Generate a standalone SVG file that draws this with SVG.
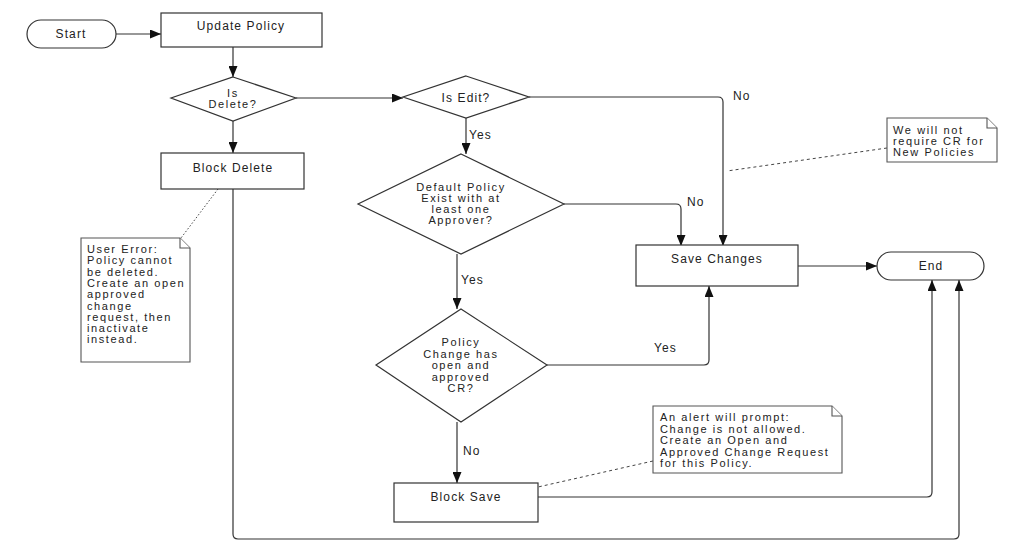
<svg xmlns="http://www.w3.org/2000/svg" width="1011" height="543" viewBox="0 0 1011 543">
<defs>
<style>
.shape{fill:#fff;stroke:#333;stroke-width:1.2}
.note{fill:#fff;stroke:#555;stroke-width:1.1}
.t{font-family:"Liberation Sans",Arial,sans-serif;font-size:12px;fill:#222;letter-spacing:1.1px}
.m{font-size:11px;letter-spacing:1.6px}
.c{text-anchor:middle}
.conn{fill:none;stroke:#333;stroke-width:1.2}
.dash{fill:none;stroke:#444;stroke-width:1;stroke-dasharray:3 3}
.dot{fill:none;stroke:#444;stroke-width:1;stroke-dasharray:1.5 2}
</style>
<marker id="arr" markerWidth="11" markerHeight="9" refX="11" refY="4.5" orient="auto" markerUnits="userSpaceOnUse">
<path d="M0,0 L11,4.5 L0,9 z" fill="#111"/>
</marker>
</defs>
<rect width="1011" height="543" fill="#fff"/>

<g id="connectors">
<path class="conn" d="M116,34 H161" marker-end="url(#arr)"/>
<path class="conn" d="M233,47 V77" marker-end="url(#arr)"/>
<path class="conn" d="M233,121 V153" marker-end="url(#arr)"/>
<path class="conn" d="M296,98 H403" marker-end="url(#arr)"/>
<path class="conn" d="M529,97 H718 Q723,97 723,102 V246" marker-end="url(#arr)"/>
<path class="conn" d="M466,118 V154" marker-end="url(#arr)"/>
<path class="conn" d="M564,204 H676 Q681,204 681,209 V246" marker-end="url(#arr)"/>
<path class="conn" d="M457,254 V309" marker-end="url(#arr)"/>
<path class="conn" d="M547,365 H704 Q709,365 709,360 V286" marker-end="url(#arr)"/>
<path class="conn" d="M457,422 V483" marker-end="url(#arr)"/>
<path class="conn" d="M798,266 H877" marker-end="url(#arr)"/>
<path class="conn" d="M538,497 H927 Q932,497 932,492 V280" marker-end="url(#arr)"/>
<path class="conn" d="M233,189 V534 Q233,539 238,539 H954 Q959,539 959,534 V280" marker-end="url(#arr)"/>
<path class="dot" d="M218,189 L181,238"/>
<path class="dash" d="M887,148 L727,171"/>
<path class="dash" d="M653,461 L538,487"/>
<text class="t" x="469" y="139">Yes</text>
<text class="t" x="733" y="100">No</text>
<text class="t" x="687" y="206">No</text>
<text class="t" x="461" y="284">Yes</text>
<text class="t" x="654" y="352">Yes</text>
<text class="t" x="463" y="455">No</text>
</g>

<g id="start">
<rect class="shape" x="27" y="20" width="89" height="28" rx="14" ry="14"/>
<text class="t c" x="71" y="38">Start</text>
</g>

<g id="update-policy">
<rect class="shape" x="161" y="13" width="161" height="34"/>
<text class="t c" x="241" y="30">Update Policy</text>
</g>

<g id="is-delete">
<polygon class="shape" points="233,77 296,98 233,121 171,98"/>
<text class="t m c" x="233" y="97">Is</text>
<text class="t m c" x="233" y="108">Delete?</text>
</g>

<g id="block-delete">
<rect class="shape" x="161" y="153" width="143" height="36"/>
<text class="t c" x="233" y="172">Block Delete</text>
</g>

<g id="is-edit">
<polygon class="shape" points="466,76 529,97 466,118 403,97"/>
<text class="t c" x="466" y="102">Is Edit?</text>
</g>

<g id="default-policy">
<polygon class="shape" points="461,154 564,204 461,254 358,204"/>
<text class="t m c" x="461" y="191">Default Policy</text>
<text class="t m c" x="461" y="202">Exist with at</text>
<text class="t m c" x="461" y="213">least one</text>
<text class="t m c" x="461" y="224">Approver?</text>
</g>

<g id="policy-change">
<polygon class="shape" points="461,309 547,365 461,422 376,365"/>
<text class="t m c" x="461" y="346">Policy</text>
<text class="t m c" x="461" y="357.5">Change has</text>
<text class="t m c" x="461" y="369">open and</text>
<text class="t m c" x="461" y="380.5">approved</text>
<text class="t m c" x="461" y="392">CR?</text>
</g>

<g id="save-changes">
<rect class="shape" x="636" y="245" width="162" height="41"/>
<text class="t c" x="717" y="263">Save Changes</text>
</g>

<g id="end">
<rect class="shape" x="877" y="252" width="107" height="28" rx="14" ry="14"/>
<text class="t c" x="931" y="270">End</text>
</g>

<g id="block-save">
<rect class="shape" x="394" y="483" width="144" height="39"/>
<text class="t c" x="466" y="501">Block Save</text>
</g>

<g id="note-user-error">
<path class="note" d="M81,238 H180 L190,248 V362 H81 Z"/>
<path class="note" d="M180,238 V248 H190"/>
<text class="t m" x="87" y="253">User Error:</text>
<text class="t m" x="87" y="264.3">Policy cannot</text>
<text class="t m" x="87" y="275.6">be deleted.</text>
<text class="t m" x="87" y="286.9">Create an open</text>
<text class="t m" x="87" y="298.2">approved</text>
<text class="t m" x="87" y="309.5">change</text>
<text class="t m" x="87" y="320.8">request, then</text>
<text class="t m" x="87" y="332.1">inactivate</text>
<text class="t m" x="87" y="343.4">instead.</text>
</g>

<g id="note-new-policies">
<path class="note" d="M887,118 H987 L997,128 V162 H887 Z"/>
<path class="note" d="M987,118 V128 H997"/>
<text class="t m" x="893" y="134">We will not</text>
<text class="t m" x="893" y="145">require CR for</text>
<text class="t m" x="893" y="156">New Policies</text>
</g>

<g id="note-alert">
<path class="note" d="M653,406 H832 L842,416 V473 H653 Z"/>
<path class="note" d="M832,406 V416 H842"/>
<text class="t m" x="660" y="421">An alert will prompt:</text>
<text class="t m" x="660" y="432.5">Change is not allowed.</text>
<text class="t m" x="660" y="444">Create an Open and</text>
<text class="t m" x="660" y="455.5">Approved Change Request</text>
<text class="t m" x="660" y="467">for this Policy.</text>
</g>
</svg>
